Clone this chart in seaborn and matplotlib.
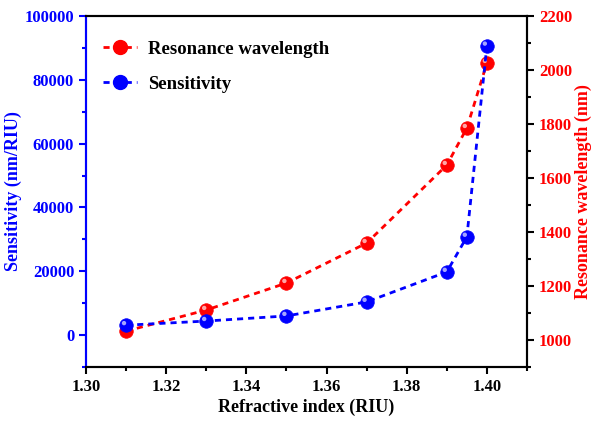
import numpy as np
import pandas as pd
import matplotlib
matplotlib.use("Agg")
import matplotlib.pyplot as plt
import matplotlib.transforms as mtransforms
from matplotlib.lines import Line2D
from matplotlib.ticker import MultipleLocator, FormatStrFormatter
import seaborn as sns

# Data
refractive_index = [1.31, 1.33, 1.35, 1.37, 1.39, 1.395, 1.40]
sensitivity = [3100, 4400, 6000, 10400, 19800, 30800, 90700]
resonance_wl = [1033, 1111, 1211, 1359, 1648, 1785, 2026]

BLUE = "#0000ff"
RED = "#ff0000"
DASH = (0, (2.2, 1.8))

sns.set_theme(style="ticks")
plt.rcParams["font.family"] = ["Liberation Serif", "DejaVu Serif"]
plt.rcParams["font.weight"] = "bold"
plt.rcParams["text.color"] = "black"

df = pd.DataFrame({"n": refractive_index, "S": sensitivity, "wl": resonance_wl})

fig = plt.figure(figsize=(5.95, 4.21), dpi=100)
ax = fig.add_axes([86 / 595, 1 - 367 / 421, (527 - 86) / 595, (367 - 16) / 421])
ax2 = ax.twinx()


def sphere_points(a, col, base, shine):
    # solid ball plus a small offset highlight to fake the shaded spheres
    sns.scatterplot(data=df, x="n", y=col, ax=a, color=base, s=95,
                    edgecolor=base, linewidth=0.5, zorder=3)
    hl = a.scatter(df["n"], df[col], s=10, color=shine, edgecolors="none", alpha=0.8, zorder=4,
                   transform=mtransforms.offset_copy(a.transData, fig=fig, x=-1.5, y=1.5, units="points"))
    return hl


# Resonance wavelength (right axis)
sns.lineplot(data=df, x="n", y="wl", ax=ax2, color=RED, lw=2, linestyle=DASH)
sphere_points(ax2, "wl", RED, "#ffd0d0")

# Sensitivity (left axis)
sns.lineplot(data=df, x="n", y="S", ax=ax, color=BLUE, lw=2, linestyle=DASH)
sphere_points(ax, "S", BLUE, "#d0d0ff")

ax.set_zorder(ax2.get_zorder() + 1)
ax.patch.set_visible(False)

ax.set_xlim(1.30, 1.41)
ax.set_ylim(-10000, 100000)
ax2.set_ylim(900, 2200)

ax.xaxis.set_major_locator(MultipleLocator(0.02))
ax.xaxis.set_minor_locator(MultipleLocator(0.01))
ax.yaxis.set_major_locator(MultipleLocator(20000))
ax.yaxis.set_minor_locator(MultipleLocator(10000))
ax2.yaxis.set_major_locator(MultipleLocator(200))
ax2.yaxis.set_minor_locator(MultipleLocator(100))
ax.xaxis.set_major_formatter(FormatStrFormatter("%.2f"))

ax.set_xlabel("Refractive index (RIU)", fontsize=13, fontweight="bold", color="black", labelpad=3)
ax.set_ylabel("Sensitivity (nm/RIU)", fontsize=13, fontweight="bold", color=BLUE, labelpad=2)
ax2.set_ylabel("Resonance wavelength (nm)", fontsize=13, fontweight="bold", color=RED, labelpad=2)

for a in (ax, ax2):
    for sp in a.spines.values():
        sp.set_linewidth(1.5)
        sp.set_color("black")
ax.spines["left"].set_color(BLUE)
ax2.spines["left"].set_color(BLUE)

ax.tick_params(axis="x", which="both", direction="out", colors="black", labelsize=12, width=1.5)
ax.tick_params(axis="y", which="both", direction="out", colors=BLUE, labelsize=12, width=1.5)
ax2.tick_params(axis="y", which="both", direction="out", color="black", labelcolor=RED, labelsize=12, width=1.5)
for a in (ax, ax2):
    a.tick_params(which="major", length=5)
    a.tick_params(which="minor", length=3)

for lbl in ax.get_xticklabels() + ax.get_yticklabels() + ax2.get_yticklabels():
    lbl.set_fontweight("bold")

handles = [
    Line2D([], [], color=RED, lw=2, linestyle=DASH, marker="o", markersize=10, markeredgecolor=RED),
    Line2D([], [], color=BLUE, lw=2, linestyle=DASH, marker="o", markersize=10, markeredgecolor=BLUE),
]
leg = ax.legend(handles, ["Resonance wavelength", "Sensitivity"], loc="upper left",
                bbox_to_anchor=(0.0, 0.978), frameon=False, handlelength=1.8, handletextpad=0.6,
                prop={"size": 13.5, "weight": "bold"}, labelspacing=0.95)
for t in leg.get_texts():
    t.set_color("black")

fig.savefig("out.png", dpi=100)
